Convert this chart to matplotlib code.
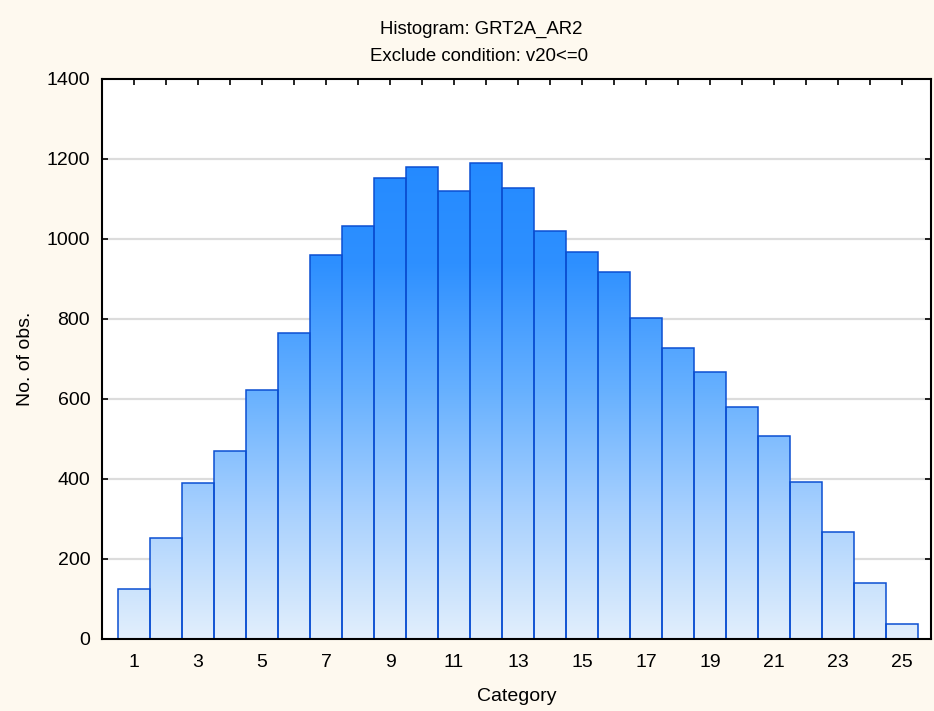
import numpy as np
import matplotlib
matplotlib.use("Agg")
import matplotlib.pyplot as plt
from matplotlib.colors import LinearSegmentedColormap
from matplotlib.path import Path
from matplotlib.patches import PathPatch

plt.rcParams['font.family'] = ['Liberation Sans', 'DejaVu Sans']

categories = list(range(1, 26))
counts = [125, 252, 390, 470, 623, 766, 959, 1032, 1153, 1181, 1121, 1189, 1128,
          1019, 967, 917, 802, 727, 667, 579, 507, 392, 268, 141, 37]
yticks = [0, 200, 400, 600, 800, 1000, 1200, 1400]

fig = plt.figure(figsize=(9.34, 7.11), dpi=100, facecolor='#FEF9EF')
ax = fig.add_axes([0.1092, 0.1013, 0.8876, 0.7876])
ax.set_facecolor('white')

for y in yticks[1:-1]:
    ax.axhline(y, color='#DCDCDC', lw=1.6, zorder=0)

ax.bar(categories, counts, width=1.0, facecolor='none',
       edgecolor='#0B4FD2', linewidth=1.1, zorder=3)

# gradient fill clipped to bars
verts, codes = [], []
for c, v in zip(categories, counts):
    x0, x1 = c - 0.5, c + 0.5
    verts += [(x0, 0), (x0, v), (x1, v), (x1, 0), (x0, 0)]
    codes += [Path.MOVETO, Path.LINETO, Path.LINETO, Path.LINETO, Path.CLOSEPOLY]
clip = PathPatch(Path(verts, codes), transform=ax.transData, facecolor='none', edgecolor='none')
ax.add_patch(clip)
cmap = LinearSegmentedColormap.from_list('g', ['#E2EFFC', '#A9D1FE', '#66B0FF', '#2E90FF', '#2289FF'])
grad = np.linspace(0, 1, 256).reshape(-1, 1)
im = ax.imshow(grad, cmap=cmap, origin='lower', aspect='auto',
               extent=[0.5, 25.5, 0, 1250], zorder=2, interpolation='bilinear')
im.set_clip_path(clip)
ax.set_xlim(0, 25.9)
ax.set_ylim(0, 1400)

ax.set_xticks(categories)
ax.set_xticklabels([str(c) if c % 2 == 1 else '' for c in categories])
ax.set_yticks(yticks)
ax.tick_params(axis='both', direction='in', length=4, width=1.2, labelsize=14,
               top=True, right=True, colors='black')
ax.tick_params(axis='x', pad=11)
ax.tick_params(axis='y', pad=8.5)
for s in ax.spines.values():
    s.set_linewidth(1.5)
    s.set_color('black')
    s.set_zorder(5)

ax.set_xlabel('Category', fontsize=14, labelpad=12)
ax.set_ylabel('No. of obs.', fontsize=14, labelpad=9)
fig.text(0.515, 0.958, 'Histogram: GRT2A_AR2', ha='center', va='center', fontsize=13.4)
fig.text(0.513, 0.920, 'Exclude condition: v20<=0', ha='center', va='center', fontsize=13.4)

fig.savefig('out.png', dpi=100, facecolor=fig.get_facecolor())
